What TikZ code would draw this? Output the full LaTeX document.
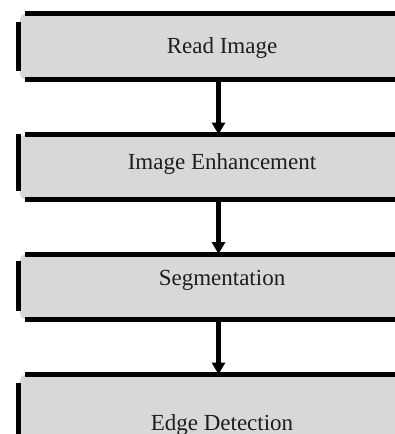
\documentclass[tikz,border=0pt]{standalone}
\usepackage{fontspec}
\setmainfont{Liberation Serif}
\usetikzlibrary{arrows.meta}
\definecolor{boxgrey}{HTML}{D8D8D8}
\definecolor{inkcol}{HTML}{1E1E1E}
\tikzset{
  stagebox/.style={rectangle, fill=boxgrey, rounded corners=5pt, inner sep=0pt,
                   anchor=north west, minimum width=385pt},
  stagetext/.style={anchor=base, font=\fontsize{23}{23}\selectfont, text=inkcol, inner sep=0pt},
  rule/.style={line width=5pt, black},
  sidebar/.style={line width=5pt, black},
  flow/.style={line width=4.5pt, black, -{Triangle[width=13pt,length=12pt]}}
}
\begin{document}
\begin{tikzpicture}[x=1pt, y=-1pt]
  \clip (0,0) rectangle (395,434);
  \fill[white] (0,0) rectangle (395,434);

  % grey stage boxes
  \node[stagebox, minimum height=66pt] (b1) at (20,13.5) {};
  \node[stagebox, minimum height=65pt] (b2) at (20,134.5) {};
  \node[stagebox, minimum height=65pt] (b3) at (20,254) {};
  \node[stagebox, minimum height=70pt] (b4) at (20,374.5) {};

  % captions
  \node[stagetext] (t1) at (222,53) {Read Image};
  \node[stagetext] (t2) at (222,169) {Image Enhancement};
  \node[stagetext] (t3) at (222,285) {Segmentation};
  \node[stagetext] (t4) at (222,430) {Edge Detection};

  % arrow column
  \coordinate (ax) at (218.5,0);
  \draw[flow] (b1.south -| ax) -- (b2.north -| ax);
  \draw[flow] (b2.south -| ax) -- (b3.north -| ax);
  \draw[flow] (b3.south -| ax) -- (b4.north -| ax);

  % heavy top and bottom rules
  \foreach \b in {b1,b2,b3,b4}{
    \draw[rule] ([xshift=5pt]\b.north west) -- (\b.north east);
  }
  \foreach \b in {b1,b2,b3}{
    \draw[rule] ([xshift=5pt]\b.south west) -- (\b.south east);
  }

  % left bars
  \draw[sidebar] (18.5,22) -- (18.5,71);
  \draw[sidebar] (18.5,134) -- (18.5,191);
  \draw[sidebar] (18.5,261) -- (18.5,311);
  \draw[sidebar] (18.5,383) -- (18.5,440);
\end{tikzpicture}
\end{document}
